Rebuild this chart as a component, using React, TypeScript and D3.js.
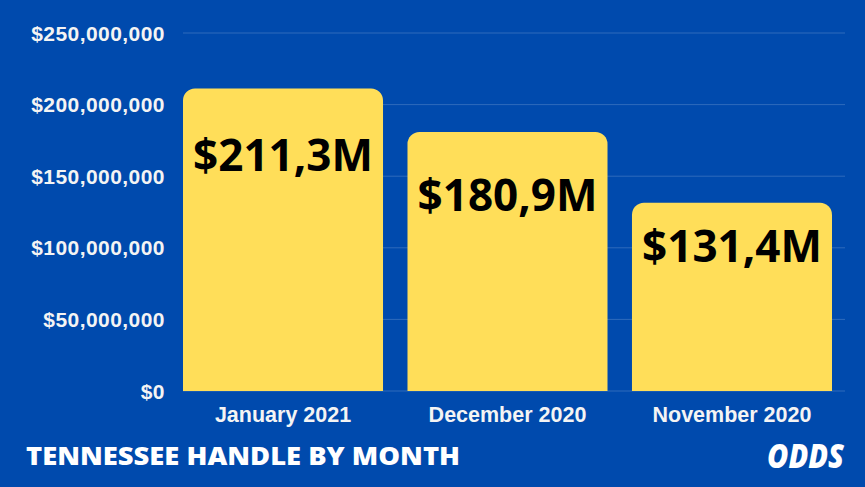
import * as d3 from "d3";

// data
const months = ["January 2021", "December 2020", "November 2020"];
const handle = [211.3e6, 180.9e6, 131.4e6];
const valueLabels = ["$211,3M", "$180,9M", "$131,4M"];
const yTicks = [0, 50e6, 100e6, 150e6, 200e6, 250e6];

const W = 865;
const H = 487;
const BLUE = "#004AAD";
const YELLOW = "#FFDE59";

// the value labels were hand placed in the original, nudge each one
const labelDy = [83, 79, 59];

function topRoundedBar(x: number, y: number, w: number, h: number, r: number) {
  const p = d3.path();
  p.moveTo(x, y + h);
  p.lineTo(x, y + r);
  p.arcTo(x, y, x + r, y, r);
  p.lineTo(x + w - r, y);
  p.arcTo(x + w, y, x + w, y + r, r);
  p.lineTo(x + w, y + h);
  p.closePath();
  return p.toString();
}

export default function App() {
  const x = d3.scaleBand<string>().domain(months).range([183, 832]).paddingInner(0.109).paddingOuter(0);
  const y = d3.scaleLinear().domain([0, 250e6]).range([391, 33]);
  const fmt = (v: number) => "$" + d3.format(",")(v);

  return (
    <svg width={W} height={H} style={{ display: "block", position: "absolute", left: 0, top: 0 }}>
      <rect width={W} height={H} fill={BLUE} />

      {/* grid + y axis */}
      {yTicks.map((t) => (
        <g key={t}>
          <line x1={183} x2={845} y1={y(t)} y2={y(t)} stroke="#ffffff" strokeOpacity={0.18} strokeWidth={1} />
          <text
            x={165}
            y={y(t) + 7.5}
            textAnchor="end"
            fill="#f4f4f4"
            fontFamily="'Liberation Sans', Arial, sans-serif"
            fontWeight={700}
            fontSize={21}
            letterSpacing={0.45}
          >
            {fmt(t)}
          </text>
        </g>
      ))}

      {/* bars */}
      {months.map((m, i) => {
        const bx = x(m)!;
        const bw = x.bandwidth();
        const top = y(handle[i]);
        return (
          <g key={m}>
            <path d={topRoundedBar(bx, top, bw, y(0) - top, 12)} fill={YELLOW} />
            <text
              x={bx + bw / 2}
              y={top + labelDy[i]}
              textAnchor="middle"
              fill="#000"
              fontFamily="'Open Sans', sans-serif"
              fontWeight={700}
              fontSize={44}
            >
              {valueLabels[i]}
            </text>
            <text
              x={bx + bw / 2}
              y={422}
              textAnchor="middle"
              fill="#f4f4f4"
              fontFamily="'Liberation Sans', Arial, sans-serif"
              fontWeight={700}
              fontSize={21.5}
            >
              {m}
            </text>
          </g>
        );
      })}

      {/* footer */}
      <text
        x={26}
        y={465}
        fill="#fff"
        fontFamily="'Open Sans', sans-serif"
        fontWeight={800}
        fontSize={25.5}
        textLength={434}
        lengthAdjust="spacingAndGlyphs"
      >
        TENNESSEE HANDLE BY MONTH
      </text>
      <text
        x={767}
        y={468}
        fill="#fff"
        fontFamily="'Open Sans', sans-serif"
        fontWeight={800}
        fontStyle="italic"
        fontSize={34}
        textLength={77}
        lengthAdjust="spacingAndGlyphs"
      >
        ODDS
      </text>
    </svg>
  );
}
